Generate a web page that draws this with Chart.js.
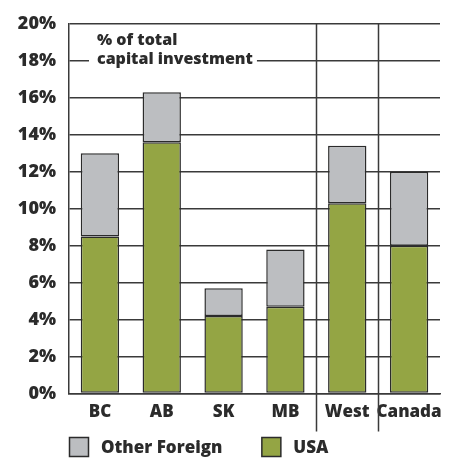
<!DOCTYPE html>
<html>
<head>
<meta charset="utf-8">
<script src="https://cdn.jsdelivr.net/npm/chart.js@4.4.1/dist/chart.umd.min.js"></script>
<style>
  html, body { margin: 0; padding: 0; background: #fff; }
</style>
</head>
<body>
<canvas id="invest-chart" width="453" height="458"></canvas>
<script>
// DATA (% of total capital investment)
const regions = ["BC", "AB", "SK", "MB", "West", "Canada"];
const usaShare = [8.5, 13.6, 4.2, 4.7, 10.3, 8.0];
const otherForeignShare = [4.5, 2.7, 1.5, 3.1, 3.1, 4.0];
const yTicks = [0, 2, 4, 6, 8, 10, 12, 14, 16, 18, 20];
const noteLines = ["% of total", "capital investment"];

const FONT = "'Open Sans', 'Noto Sans', sans-serif";
const INK = '#2b2b2b';

// separators between MB | West | Canada, boxed note, legend row
const extras = {
  id: 'extras',
  afterDraw(chart) {
    const ctx = chart.ctx;
    const area = chart.chartArea;
    const x = chart.scales.x;
    ctx.save();
    ctx.strokeStyle = '#3a3a3a';
    ctx.lineWidth = 1.5;
    [3, 4].forEach(i => {
      const sx = Math.round((x.getPixelForValue(i) + x.getPixelForValue(i + 1)) / 2) + 0.5;
      ctx.beginPath();
      ctx.moveTo(sx, area.top);
      ctx.lineTo(sx, area.bottom + 38);
      ctx.stroke();
    });

    // note with white background
    ctx.font = "800 16px " + FONT;
    const nx = area.left + 28;
    const ny = area.top + 9;
    const w = Math.max(...noteLines.map(t => ctx.measureText(t).width));
    ctx.fillStyle = '#fff';
    ctx.fillRect(nx - 8, ny, w + 12, 42);
    ctx.fillStyle = INK;
    ctx.textBaseline = 'top';
    noteLines.forEach((t, i) => ctx.fillText(t, nx, ny + i * 19));

    // legend: Other Foreign first, then USA
    ctx.font = "800 17px " + FONT;
    ctx.textBaseline = 'middle';
    let lx = area.left;
    const ly = chart.height - 21;
    chart.data.datasets.slice().reverse().forEach(ds => {
      ctx.fillStyle = ds.backgroundColor;
      ctx.fillRect(lx + 0.5, ly + 0.5, 19, 19);
      ctx.strokeStyle = INK;
      ctx.lineWidth = 1.5;
      ctx.strokeRect(lx + 0.5, ly + 0.5, 19, 19);
      ctx.fillStyle = INK;
      ctx.fillText(ds.label, lx + 32, ly + 11);
      lx += 32 + ctx.measureText(ds.label).width + 39;
    });
    ctx.restore();
  }
};

const investChart = new Chart(document.getElementById('invest-chart'), {
  type: 'bar',
  data: {
    labels: regions,
    datasets: [
      {
        label: 'USA',
        data: usaShare,
        backgroundColor: '#94a544',
        borderColor: INK,
        borderWidth: 1.5,
        borderSkipped: false,
        barPercentage: 0.62,
        categoryPercentage: 1
      },
      {
        label: 'Other Foreign',
        data: otherForeignShare,
        backgroundColor: '#bcbec1',
        borderColor: INK,
        borderWidth: 1.5,
        borderSkipped: false,
        barPercentage: 0.62,
        categoryPercentage: 1
      }
    ]
  },
  options: {
    responsive: false,
    devicePixelRatio: 1,
    animation: false,
    layout: { autoPadding: false, padding: { left: 0, right: 13, top: 16, bottom: 36 } },
    scales: {
      x: {
        stacked: true,
        grid: { display: false },
        border: { display: true, color: '#3a3a3a', width: 1.5 },
        ticks: {
          color: INK,
          maxRotation: 0,
          autoSkip: false,
          padding: 0,
          font: { family: FONT, size: 17, weight: 800 }
        }
      },
      y: {
        stacked: true,
        min: 0,
        max: 20,
        afterBuildTicks: s => { s.ticks = yTicks.map(v => ({ value: v })); },
        afterFit: s => { s.width = 69; },
        grid: { color: '#3a3a3a', lineWidth: 1.5, drawTicks: false },
        border: { display: true, color: '#3a3a3a', width: 1.5 },
        ticks: {
          color: INK,
          padding: 13,
          font: { family: FONT, size: 18, weight: 800 },
          callback: v => v + '%'
        }
      }
    },
    plugins: {
      tooltip: { enabled: false },
      legend: { display: false }
    }
  },
  plugins: [extras]
});
</script>
</body>
</html>
